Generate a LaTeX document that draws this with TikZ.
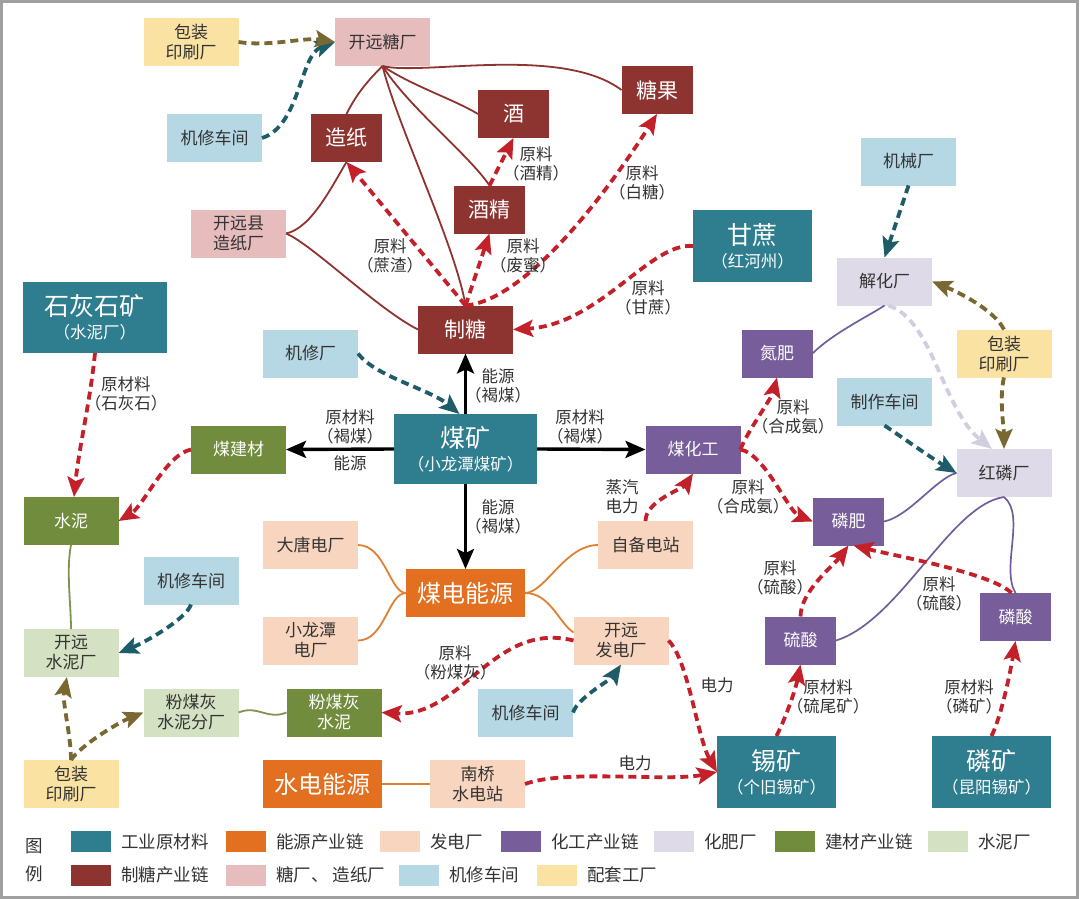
\documentclass[tikz,border=0pt]{standalone}
\usepackage{fontspec}
\setmainfont{Noto Sans CJK SC}
\usepackage{tikz}
\usetikzlibrary{arrows.meta, positioning}

\definecolor{cRaw}{RGB}{46,126,143}
\definecolor{cEnergy}{RGB}{226,112,32}
\definecolor{cPlant}{RGB}{248,213,190}
\definecolor{cChem}{RGB}{119,94,155}
\definecolor{cFert}{RGB}{222,218,231}
\definecolor{cBm}{RGB}{112,140,60}
\definecolor{cCement}{RGB}{213,225,195}
\definecolor{cSugar}{RGB}{142,52,48}
\definecolor{cMill}{RGB}{230,188,188}
\definecolor{cRepair}{RGB}{181,216,228}
\definecolor{cSupport}{RGB}{249,226,162}
\definecolor{cText}{RGB}{51,51,51}
\definecolor{cRedArrow}{RGB}{196,32,42}
\definecolor{cTealArrow}{RGB}{30,92,106}
\definecolor{cPackArrow}{RGB}{122,104,50}
\definecolor{cFertArrow}{RGB}{210,206,222}
\definecolor{cChemLine}{RGB}{112,94,155}
\definecolor{cPowLine}{RGB}{226,128,50}
\definecolor{cBmLine}{RGB}{126,148,80}
\definecolor{cFrame}{RGB}{160,160,160}

\tikzstyle{box}=[rectangle, inner sep=0pt, outer sep=0pt, align=center, minimum width=95pt, minimum height=48pt, text=cText, font=\fontsize{17}{20}\selectfont]
\tikzstyle{narrow}=[minimum width=71pt]
\tikzstyle{rawbox}=[box, fill=cRaw, text=white, minimum width=119pt, minimum height=72pt, font=\fontsize{16.5}{23}\selectfont]
\tikzstyle{energybox}=[box, fill=cEnergy, text=white, minimum width=119pt, font=\fontsize{24}{26}\selectfont]
\tikzstyle{plantbox}=[box, fill=cPlant]
\tikzstyle{chembox}=[box, fill=cChem, text=white]
\tikzstyle{fertbox}=[box, fill=cFert]
\tikzstyle{bmbox}=[box, fill=cBm, text=white]
\tikzstyle{cementbox}=[box, fill=cCement]
\tikzstyle{sugarbox}=[box, fill=cSugar, text=white, font=\fontsize{21}{24}\selectfont]
\tikzstyle{millbox}=[box, fill=cMill]
\tikzstyle{repairbox}=[box, fill=cRepair]
\tikzstyle{supportbox}=[box, fill=cSupport]
\tikzstyle{lab}=[inner sep=0pt, align=center, text=cText, font=\fontsize{16.5}{19.5}\selectfont]
\tikzstyle{energyarrow}=[line width=3.4pt, black, -{Stealth[length=20pt, width=17pt, inset=4pt]}]
\tikzstyle{rawarrow}=[line width=3.8pt, cRedArrow, dash pattern=on 8pt off 5pt, -{Stealth[length=20pt, width=17pt, inset=4pt]}]
\tikzstyle{repairarrow}=[line width=3.8pt, cTealArrow, dash pattern=on 8pt off 5pt, -{Stealth[length=20pt, width=17pt, inset=4pt]}]
\tikzstyle{packarrow}=[line width=3.8pt, cPackArrow, dash pattern=on 8pt off 5pt, -{Stealth[length=20pt, width=17pt, inset=4pt]}]
\tikzstyle{fertarrow}=[line width=3.8pt, cFertArrow, dash pattern=on 8pt off 5pt, -{Stealth[length=20pt, width=17pt, inset=4pt]}]
\tikzstyle{sugarline}=[line width=1.8pt, cSugar]
\tikzstyle{chemline}=[line width=1.7pt, cChemLine]
\tikzstyle{powline}=[line width=1.8pt, cPowLine]
\tikzstyle{bmline}=[line width=1.8pt, cBmLine]
\tikzstyle{swatch}=[rectangle, inner sep=0pt, minimum width=40pt, minimum height=21pt]
\tikzstyle{legtext}=[inner sep=0pt, text=cText, font=\fontsize{17.5}{20}\selectfont]

\newcommand{\mainline}[1]{{\fontsize{25}{25}\selectfont #1}}

\begin{document}
\begin{tikzpicture}[x=1pt, y=-1pt]
    \useasboundingbox (0,0) rectangle (1080,899);
    \fill[white] (0,0) rectangle (1080,899);

    % sugar chain
    \node[supportbox] (packA) at (191,42) {包装\\印刷厂};
    \node[millbox] (kysugar) at (382.5,42) {开远糖厂};
    \node[repairbox] (repairA) at (214.5,138) {机修车间};
    \node[sugarbox, narrow] (paper) at (346.5,138) {造纸};
    \node[sugarbox, narrow] (wine) at (513.5,114) {酒};
    \node[sugarbox, narrow] (candy) at (657,90) {糖果};
    \node[sugarbox, narrow] (alcohol) at (489.5,209.5) {酒精};
    \node[millbox] (kypaper) at (238.5,233.5) {开远县\\造纸厂};
    \node[rawbox] (cane) at (752.5,246) {\mainline{甘蔗}\\（红河州）};
    \node[sugarbox] (sugar) at (465.5,329.5) {制糖};

    % chemicals
    \node[repairbox] (machine) at (908.5,161.5) {机械厂};
    \node[fertbox] (jiehua) at (884.5,281.5) {解化厂};
    \node[supportbox] (packB) at (1004,353.5) {包装\\印刷厂};
    \node[chembox, narrow] (nfert) at (777,353.5) {氮肥};
    \node[repairbox] (workshop) at (884.5,401.5) {制作车间};
    \node[chembox] (coalchem) at (693,449.5) {煤化工};
    \node[fertbox] (redp) at (1004,473) {红磷厂};
    \node[chembox, narrow] (pfert) at (848.5,521.5) {磷肥};
    \node[chembox, narrow] (sacid) at (800.5,640.5) {硫酸};
    \node[chembox, narrow] (pacid) at (1015.5,617) {磷酸};
    \node[rawbox] (tin) at (776.5,772) {\mainline{锡矿}\\（个旧锡矿）};
    \node[rawbox] (phos) at (991.5,772) {\mainline{磷矿}\\（昆阳锡矿）};

    % coal, building materials, power
    \node[rawbox, minimum width=144pt, minimum height=71pt] (lime) at (95,317.5) {\mainline{石灰石矿}\\（水泥厂）};
    \node[repairbox] (repairB) at (310.5,353.5) {机修厂};
    \node[rawbox, minimum width=143pt, minimum height=70pt] (coal) at (465.5,449) {\mainline{煤矿}\\（小龙潭煤矿）};
    \node[bmbox] (coalbm) at (238.5,449.5) {煤建材};
    \node[bmbox] (cement) at (71,521) {水泥};
    \node[plantbox] (datang) at (310.5,545) {大唐电厂};
    \node[plantbox] (selfps) at (645.5,545) {自备电站};
    \node[repairbox] (repairC) at (191,580.5) {机修车间};
    \node[energybox] (coalpow) at (465.5,593) {煤电能源};
    \node[cementbox] (kycement) at (71,653) {开远\\水泥厂};
    \node[plantbox] (xlt) at (310.5,640.5) {小龙潭\\电厂};
    \node[plantbox] (kyps) at (621,640.5) {开远\\发电厂};
    \node[cementbox] (flyash) at (191,712.5) {粉煤灰\\水泥分厂};
    \node[bmbox] (flyc) at (334,712.5) {粉煤灰\\水泥};
    \node[repairbox] (repairD) at (525.5,712.5) {机修车间};
    \node[supportbox] (packC) at (71,784) {包装\\印刷厂};
    \node[energybox] (hydro) at (322.5,784) {水电能源};
    \node[plantbox] (nanqiao) at (477.5,784) {南桥\\水电站};

    % solid links
    \draw[sugarline] (kysugar.south) .. controls +(-15,15) and +(10,-20) .. (paper.north);
    \draw[sugarline] (kysugar.south) .. controls +(30,20) and +(-25,-15) .. (wine.west);
    \draw[sugarline] (kysugar.south) .. controls +(25,40) and +(-20,-30) .. (alcohol.north);
    \draw[sugarline] (kysugar.south) .. controls +(15,60) and +(-10,-60) .. (sugar.north);
    \draw[sugarline] (kysugar.south) .. controls +(40,10) and +(-60,-45) .. (candy.west);
    \draw[sugarline] (kypaper.east) .. controls +(25,-5) and +(-15,25) .. (paper.south);
    \draw[sugarline] (kypaper.east) .. controls +(25,10) and +(-40,-20) .. (sugar.west);
    \draw[chemline] (jiehua.south) .. controls +(-15,10) and +(20,-20) .. (nfert.east);
    \draw[chemline] (redp.west) .. controls +(-20,5) and +(25,-5) .. (pfert.east);
    \draw[chemline] (redp.south) .. controls +(-54,8) and +(64,-20) .. (sacid.east);
    \draw[chemline] (redp.south) .. controls +(22,18) and +(-15,-25) .. (pacid.north);
    \draw[powline] (coalpow.west) .. controls +(-16,0) and +(27,0) .. (datang.east);
    \draw[powline] (coalpow.west) .. controls +(-18,0) and +(27,0) .. (xlt.east);
    \draw[powline] (coalpow.east) .. controls +(20,0) and +(-33,0) .. (selfps.west);
    \draw[powline] (coalpow.east) .. controls +(25,0) and +(-15,-10) .. ([yshift=8pt]kyps.west);
    \draw[powline] (hydro.east) -- (nanqiao.west);
    \draw[bmline] (cement.south) .. controls +(-5,25) and +(0,-25) .. (kycement.north);
    \draw[bmline] (flyash.east) .. controls +(20,-8) and +(-20,8) .. (flyc.west);

    % coal flows
    \draw[energyarrow] (coal.north) -- (sugar.south);
    \draw[energyarrow] (coal.west) -- (coalbm.east);
    \draw[energyarrow] (coal.east) -- (coalchem.west);
    \draw[energyarrow] (coal.south) -- (coalpow.north);

    % material flows
    \draw[rawarrow] (sugar.north) -- (paper.south);
    \draw[rawarrow] (sugar.north) -- (alcohol.south);
    \draw[rawarrow] (alcohol.north) -- (wine.south);
    \draw[rawarrow] (sugar.north) .. controls +(65,-6) and +(-42,66) .. (candy.south);
    \draw[rawarrow] (cane.west) .. controls +(-43,-4) and +(87,-5) .. (sugar.east);
    \draw[rawarrow] (lime.south) .. controls +(-5,50) and +(5,-50) .. ([xshift=3pt]cement.north);
    \draw[rawarrow] (coalbm.west) .. controls +(-25,5) and +(25,-15) .. (cement.east);
    \draw[rawarrow] (coalchem.east) .. controls +(5,-15) and +(-5,20) .. (nfert.south);
    \draw[rawarrow] (coalchem.east) .. controls +(25,5) and +(-25,-10) .. (pfert.west);
    \draw[rawarrow] (selfps.north) .. controls +(0,-20) and +(-10,15) .. (coalchem.south);
    \draw[rawarrow] (kyps.west) .. controls +(-80,-20) and +(80,5) .. (flyc.east);
    \draw[rawarrow] (kyps.east) .. controls +(20,20) and +(-20,-35) .. (tin.west);
    \draw[rawarrow] (nanqiao.east) .. controls +(40,-15) and +(-50,10) .. (tin.west);
    \draw[rawarrow] (tin.north) .. controls +(10,-20) and +(-5,25) .. (sacid.south);
    \draw[rawarrow] (sacid.north) .. controls +(0,-25) and +(-15,20) .. (pfert.south);
    \draw[rawarrow] ([xshift=-4pt]pacid.north) .. controls +(-20,-20) and +(40,10) .. ([xshift=5pt]pfert.south);
    \draw[rawarrow] (phos.north) .. controls +(10,-20) and +(-5,30) .. (pacid.south);

    % workshops and suppliers
    \draw[repairarrow] (repairA.east) .. controls +(38,-12) and +(-35,13) .. (kysugar.west);
    \draw[repairarrow] (repairB.east) .. controls +(17,23) and +(-30,-25) .. ([xshift=-6pt]coal.north);
    \draw[repairarrow] (machine.south) -- (jiehua.north);
    \draw[repairarrow] (workshop.south) .. controls +(15,10) and +(-25,-15) .. (redp.west);
    \draw[repairarrow] (repairC.south) .. controls +(-5,15) and +(25,-10) .. (kycement.east);
    \draw[repairarrow] (repairD.east) .. controls +(5,-15) and +(-10,15) .. (kyps.south);
    \draw[packarrow] (packA.east) .. controls +(30,5) and +(-30,-5) .. (kysugar.west);
    \draw[packarrow] (packB.north) .. controls +(-10,-20) and +(25,10) .. (jiehua.east);
    \draw[packarrow] (packB.south) .. controls +(-5,20) and +(0,-20) .. (redp.north);
    \draw[packarrow] (packC.north) .. controls +(0,-25) and +(-5,25) .. ([xshift=-4pt]kycement.south);
    \draw[packarrow] (packC.north) .. controls +(10,-15) and +(-25,10) .. (flyash.west);
    \draw[fertarrow] ([xshift=4pt]jiehua.south) .. controls +(45,15) and +(-50,-40) .. ([xshift=-12pt]redp.north);

    % labels
    \node[lab] (lbBagasse) at (390,256) {原料\\（蔗渣）};
    \node[lab] (lbMolasses) at (523,256) {原料\\（废蜜）};
    \node[lab] (lbAlcohol) at (536,164) {原料\\（酒精）};
    \node[lab] (lbSugar) at (642,183) {原料\\（白糖）};
    \node[lab] (lbCane) at (648,298) {原料\\（甘蔗）};
    \node[lab] (lbLime) at (126,394) {原材料\\（石灰石）};
    \node[lab] (lbUp) at (498,386) {能源\\（褐煤）};
    \node[lab] (lbLeft) at (350,427) {原材料\\（褐煤）};
    \node[lab] (lbLeftB) at (350,463) {能源};
    \node[lab] (lbRight) at (580,427) {原材料\\（褐煤）};
    \node[lab] (lbDown) at (498,517) {能源\\（褐煤）};
    \node[lab] (lbAmmA) at (793,417) {原料\\（合成氨）};
    \node[lab] (lbAmmB) at (748,497) {原料\\（合成氨）};
    \node[lab] (lbSteam) at (622,497) {蒸汽\\电力};
    \node[lab] (lbAsh) at (455,663) {原料\\（粉煤灰）};
    \node[lab] (lbAcidA) at (780,578) {原料\\（硫酸）};
    \node[lab] (lbAcidB) at (939,594) {原料\\（硫酸）};
    \node[lab] (lbPowA) at (717,685) {电力};
    \node[lab] (lbTail) at (828,697) {原材料\\（硫尾矿）};
    \node[lab] (lbPhos) at (969,697) {原材料\\（磷矿）};
    \node[lab] (lbPowB) at (635,763) {电力};

    % legend
    \node[legtext] (lgA) at (34,846) {图};
    \node[legtext] (lgB) at (34,874) {例};
    \node[swatch, fill=cRaw] (sw1) at (91,841.5) {};
    \node[legtext, right=10pt of sw1] {工业原材料};
    \node[swatch, fill=cEnergy] (sw2) at (246,841.5) {};
    \node[legtext, right=10pt of sw2] {能源产业链};
    \node[swatch, fill=cPlant] (sw3) at (400,841.5) {};
    \node[legtext, right=10pt of sw3] {发电厂};
    \node[swatch, fill=cChem] (sw4) at (521,841.5) {};
    \node[legtext, right=10pt of sw4] {化工产业链};
    \node[swatch, fill=cFert] (sw5) at (674,841.5) {};
    \node[legtext, right=10pt of sw5] {化肥厂};
    \node[swatch, fill=cBm] (sw6) at (795,841.5) {};
    \node[legtext, right=10pt of sw6] {建材产业链};
    \node[swatch, fill=cCement] (sw7) at (948,841.5) {};
    \node[legtext, right=10pt of sw7] {水泥厂};
    \node[swatch, fill=cSugar] (sw8) at (91,875) {};
    \node[legtext, right=10pt of sw8] {制糖产业链};
    \node[swatch, fill=cMill] (sw9) at (246,875) {};
    \node[legtext, right=10pt of sw9] {糖厂、\hspace{4pt}造纸厂};
    \node[swatch, fill=cRepair] (sw10) at (419,875) {};
    \node[legtext, right=10pt of sw10] {机修车间};
    \node[swatch, fill=cSupport] (sw11) at (557,875) {};
    \node[legtext, right=10pt of sw11] {配套工厂};

    \draw[cFrame, line width=2.5pt] (1.5,1.5) rectangle (1077.5,897.5);
\end{tikzpicture}
\end{document}
